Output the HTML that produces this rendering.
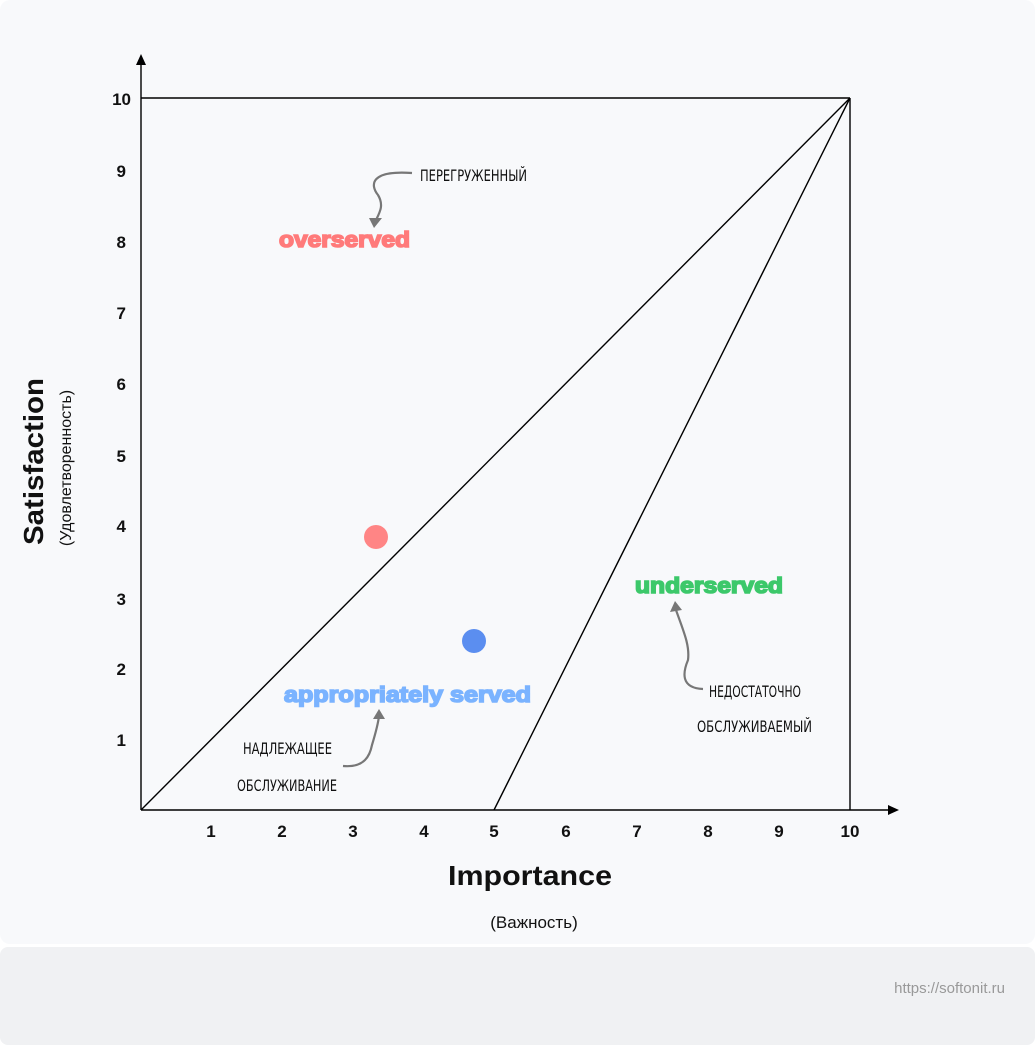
<!DOCTYPE html>
<html><head><meta charset="utf-8"><style>
html,body{margin:0;padding:0;background:#fff;}
body{width:1035px;height:1046px;position:relative;overflow:hidden;}
</style></head><body>
<svg width="1035" height="1046" viewBox="0 0 1035 1046" xmlns="http://www.w3.org/2000/svg" style="position:absolute;left:0;top:0">
<rect x="0" y="0" width="1035" height="944" rx="10" fill="#f8f9fb"/>
<rect x="0" y="947" width="1035" height="98" rx="8" fill="#f0f1f3"/>
<text x="1005" y="993" text-anchor="end" font-family="Liberation Sans, sans-serif" font-size="15" fill="#999">https://softonit.ru</text>
<g stroke="#000" stroke-width="1.4" fill="none">
<line x1="141" y1="810" x2="141" y2="62"/>
<line x1="141" y1="810" x2="892" y2="810"/>
<line x1="141" y1="98" x2="850" y2="98"/>
<line x1="850" y1="98" x2="850" y2="810"/>
<line x1="141" y1="810" x2="850" y2="98"/>
<line x1="494" y1="810" x2="850" y2="98"/>
</g>
<polygon points="141,54 136,65 146,65" fill="#000"/>
<polygon points="899,810 888,805 888,815" fill="#000"/>
<g font-family="Liberation Sans, sans-serif" font-weight="bold" font-size="17" fill="#111" text-anchor="middle">
<text x="211" y="837">1</text><text x="282" y="837">2</text><text x="353" y="837">3</text><text x="424" y="837">4</text><text x="494" y="837">5</text><text x="566" y="837">6</text><text x="637" y="837">7</text><text x="708" y="837">8</text><text x="779" y="837">9</text><text x="850" y="837">10</text>
</g>
<g font-family="Liberation Sans, sans-serif" font-weight="bold" font-size="17" fill="#111" text-anchor="end">
<text x="126" y="746">1</text><text x="126" y="675">2</text><text x="126" y="605">3</text><text x="126" y="532">4</text><text x="126" y="462">5</text><text x="126" y="390">6</text><text x="126" y="319">7</text><text x="126" y="248">8</text><text x="126" y="177">9</text><text x="131" y="105">10</text>
</g>
<text x="448" y="885" textLength="164" lengthAdjust="spacingAndGlyphs" font-family="Liberation Sans, sans-serif" font-weight="bold" font-size="28" fill="#111">Importance</text>
<text x="534" y="928" text-anchor="middle" font-family="Liberation Sans, sans-serif" font-size="17" fill="#111">(Важность)</text>
<text transform="translate(43,545) rotate(-90)" textLength="167" lengthAdjust="spacingAndGlyphs" font-family="Liberation Sans, sans-serif" font-weight="bold" font-size="28" fill="#111">Satisfaction</text>
<text transform="translate(71,468) rotate(-90)" text-anchor="middle" font-family="Liberation Sans, sans-serif" font-size="16" fill="#111">(Удовлетворенность)</text>
<circle cx="376" cy="537" r="12" fill="#ff8585"/>
<circle cx="474" cy="641" r="12" fill="#5b8ef0"/>
<g font-family="Liberation Sans, sans-serif" font-weight="bold" font-size="22" stroke-width="1.6" lengthAdjust="spacingAndGlyphs">
<text x="279" y="247" textLength="131" lengthAdjust="spacingAndGlyphs" fill="#ff7a7a" stroke="#ff7a7a">overserved</text>
<text x="635" y="593" textLength="148" lengthAdjust="spacingAndGlyphs" fill="#3cc86a" stroke="#3cc86a">underserved</text>
<text x="284" y="702" textLength="247" lengthAdjust="spacingAndGlyphs" fill="#7ab3ff" stroke="#7ab3ff">appropriately served</text>
</g>
<g font-family="DejaVu Sans Condensed, DejaVu Sans, sans-serif" font-size="16" fill="#111">
<text x="420" y="181" textLength="107" lengthAdjust="spacingAndGlyphs">ПЕРЕГРУЖЕННЫЙ</text>
<text x="243" y="754" textLength="89" lengthAdjust="spacingAndGlyphs">НАДЛЕЖАЩЕЕ</text>
<text x="237" y="791" textLength="100" lengthAdjust="spacingAndGlyphs">ОБСЛУЖИВАНИЕ</text>
<text x="709" y="697" textLength="92" lengthAdjust="spacingAndGlyphs">НЕДОСТАТОЧНО</text>
<text x="697" y="732" textLength="115" lengthAdjust="spacingAndGlyphs">ОБСЛУЖИВАЕМЫЙ</text>
</g>
<g stroke="#777" stroke-width="2.2" fill="none">
<path d="M412,173 C370,170 370,185 378,195 C384,205 380,212 376,220"/>
<path d="M343,766 C365,768 370,755 372,745 C375,735 378,725 379,716"/>
<path d="M703,689 C680,688 683,672 688,660 C690,645 683,630 676,610"/>
</g>
<g fill="#777">
<polygon points="369,218 382,218 374,228"/>
<polygon points="373,719 385,719 379,709"/>
<polygon points="670,612 682,610 675,601"/>
</g>
</svg>
</body></html>
